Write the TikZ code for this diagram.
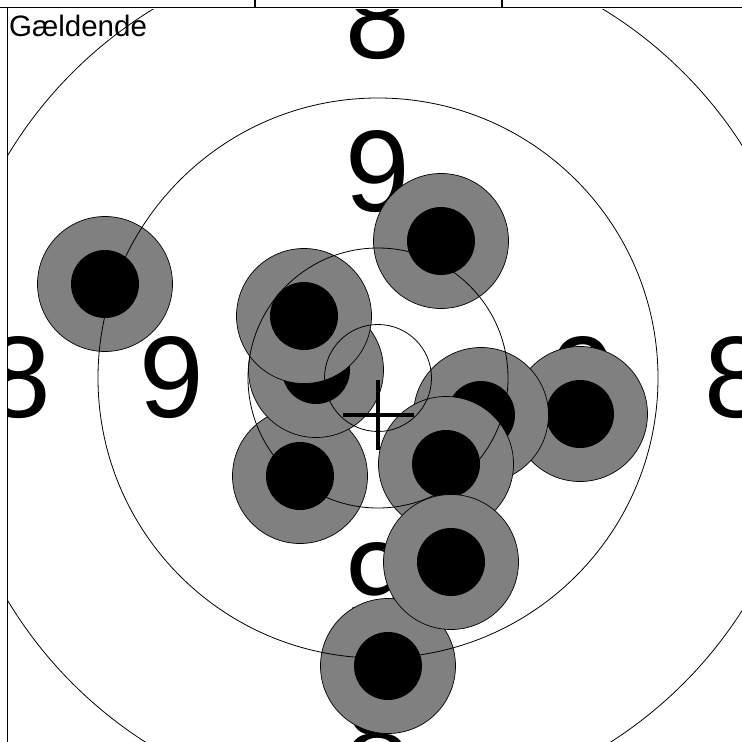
\documentclass[tikz,border=0pt]{standalone}
\usepackage{fontspec}
\setmainfont{Liberation Sans}
\usetikzlibrary{positioning}
\definecolor{shotgray}{RGB}{128,128,128}
\begin{document}
\begin{tikzpicture}[x=1pt,y=-1pt,
  ring/.style={draw,line width=0.8pt},
  shot/.style={draw,fill=shotgray,line width=0.7pt},
  hole/.style={fill=black},
  score/.style={inner sep=0pt,font=\fontsize{116}{116}\selectfont},
  frame/.style={line width=1.3pt},
  mpi/.style={line width=3.2pt}]
  \useasboundingbox (0,0) rectangle (742,742);
  \coordinate (mid) at (378,378);
  \coordinate (hit) at (378,415);
  \node[anchor=base west,inner sep=0pt,font=\fontsize{29.5}{29.5}\selectfont] (title) at (9,36) {Gældende};
  \begin{scope}
    \clip (7.5,9.5) rectangle (742,742);
    \foreach \r/\n in {206/9,359/8}{
      \node[score] (w\n) at (378-\r,378) {\n};
      \node[score] (e\n) at (378+\r,378) {\n};
      \node[score] (n\n) at (378,378-\r) {\n};
      \node[score] (s\n) at (378,378+\r) {\n};
    }
    \foreach \x/\y in {105/284,441/241,300/476,316/370,304/316,580/414,481/415,446/464,388/666,451/562}{
      \draw[shot] (\x,\y) circle[radius=67.5];
      \fill[hole] (\x,\y) circle[radius=34];
    }
    \foreach \r in {53.5,130,280,432}
      \draw[ring] (mid) circle[radius=\r];
  \end{scope}
  \draw[mpi] ([xshift=-35pt]hit) -- ([xshift=36pt]hit);
  \draw[mpi] ([yshift=35pt]hit) -- ([yshift=-35pt]hit);
  \draw[frame] (0,7.5) -- (742,7.5);
  \draw[frame] (7.5,7.5) -- (7.5,742);
  \draw[frame] (255,0) -- (255,7.5);
  \draw[frame] (502,0) -- (502,7.5);
\end{tikzpicture}
\end{document}
